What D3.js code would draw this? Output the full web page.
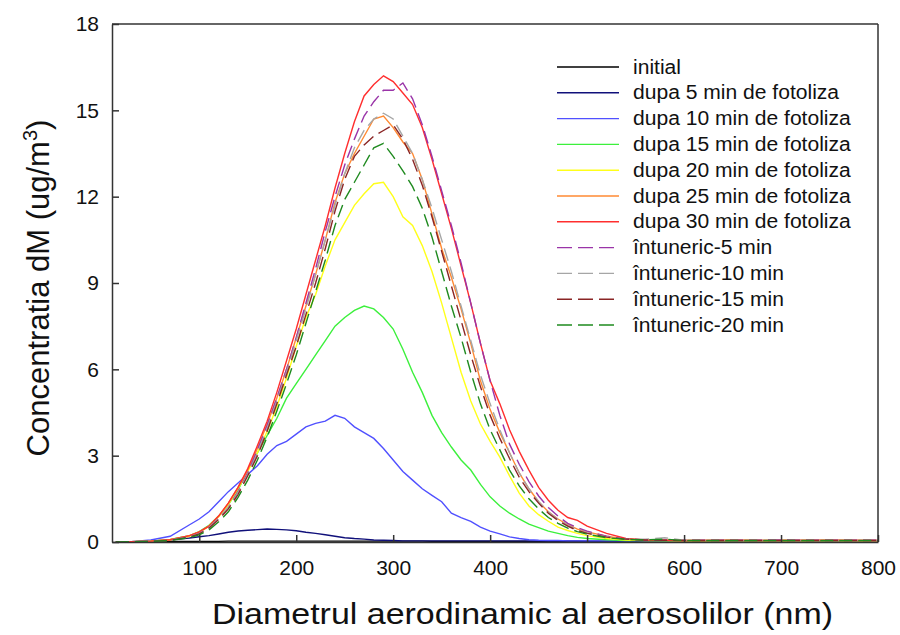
<!DOCTYPE html>
<html>
<head>
<meta charset="utf-8">
<script src="https://cdn.jsdelivr.net/npm/d3@7"></script>
<style>
  body { margin: 0; background: #fff; }
  svg text { font-family: "Liberation Sans", Arial, sans-serif; fill: #111; }
</style>
</head>
<body>
<svg id="chart" width="900" height="635"></svg>
<script>
// particle size distributions (dM vs diameter) during photolysis and in the dark

let diam = [14, 30, 50, 70, 90,
  100, 110, 120, 130, 140, 150, 160, 170, 180, 190,
  200, 210, 220, 230, 240, 250, 260, 270, 280, 290,
  300, 310, 320, 330, 340, 350, 360, 370, 380, 390,
  400, 410, 420, 430, 440, 450, 460, 470, 480, 490,
  500, 520, 540, 560, 580, 600, 650, 700, 750, 800];

let initial = [0, 0.01, 0.01, 0.02, 0.02,
  0.02, 0.02, 0.02, 0.03, 0.03, 0.03, 0.03, 0.03, 0.03, 0.03,
  0.03, 0.03, 0.03, 0.03, 0.03, 0.03, 0.03, 0.03, 0.03, 0.03,
  0.03, 0.03, 0.03, 0.03, 0.02, 0.02, 0.02, 0.02, 0.02, 0.02,
  0.02, 0.02, 0.02, 0.02, 0.02, 0.02, 0.02, 0.02, 0.02, 0.02,
  0.02, 0.02, 0.02, 0.02, 0.02, 0.02, 0.02, 0.02, 0.02, 0.02];

let dupa5 = [0, 0.01, 0.03, 0.08, 0.14,
  0.18, 0.22, 0.28, 0.34, 0.38, 0.41, 0.43, 0.45, 0.44, 0.42,
  0.39, 0.34, 0.30, 0.25, 0.20, 0.15, 0.12, 0.10, 0.07, 0.06,
  0.05, 0.04, 0.04, 0.04, 0.04, 0.04, 0.04, 0.04, 0.04, 0.04,
  0.04, 0.04, 0.04, 0.04, 0.04, 0.04, 0.04, 0.04, 0.04, 0.04,
  0.03, 0.03, 0.03, 0.03, 0.03, 0.03, 0.03, 0.03, 0.03, 0.03];

let dupa10 = [0, 0.01, 0.07, 0.2, 0.6,
  0.8, 1.05, 1.4, 1.75, 2.05, 2.35, 2.65, 3.05, 3.35, 3.5,
  3.75, 4.0, 4.12, 4.2, 4.4, 4.3, 4.0, 3.8, 3.6, 3.25,
  2.85, 2.45, 2.15, 1.85, 1.62, 1.4, 1.0, 0.85, 0.72, 0.52,
  0.38, 0.28, 0.18, 0.12, 0.08, 0.06, 0.05, 0.05, 0.04, 0.04,
  0.04, 0.04, 0.04, 0.04, 0.04, 0.04, 0.04, 0.04, 0.04, 0.04];

let dupa15 = [0, 0.01, 0.03, 0.09, 0.22,
  0.36, 0.58, 0.9, 1.3, 1.8, 2.5, 3.1, 3.7, 4.3, 5.0,
  5.5, 6.0, 6.5, 7.0, 7.5, 7.8, 8.05, 8.2, 8.1, 7.8,
  7.4, 6.7, 5.9, 5.2, 4.4, 3.8, 3.3, 2.85, 2.5, 2.0,
  1.57, 1.25, 1.0, 0.8, 0.62, 0.5, 0.38, 0.3, 0.22, 0.16,
  0.12, 0.08, 0.05, 0.05, 0.04, 0.04, 0.04, 0.04, 0.04, 0.04];

let dupa20 = [0, 0.01, 0.03, 0.08, 0.2,
  0.33, 0.55, 0.88, 1.3, 1.85, 2.45, 3.1, 3.85, 4.7, 5.7,
  6.8, 7.8, 8.6, 9.6, 10.5, 11.1, 11.7, 12.1, 12.45, 12.5,
  12.0, 11.3, 11.0, 10.3, 9.4, 8.3, 7.1, 5.9, 4.9, 4.1,
  3.5, 2.95, 2.3, 1.7, 1.25, 0.95, 0.72, 0.52, 0.4, 0.3,
  0.22, 0.12, 0.07, 0.05, 0.05, 0.04, 0.05, 0.04, 0.05, 0.04];

let dupa25 = [0, 0.01, 0.03, 0.08, 0.22,
  0.35, 0.55, 0.9, 1.35, 1.9, 2.5, 3.25, 4.1, 5.0, 6.0,
  7.1, 8.2, 9.3, 10.5, 11.8, 12.8, 13.5, 14.1, 14.7, 14.8,
  14.4, 13.9, 13.5, 12.6, 11.4, 10.2, 9.2, 8.1, 6.9, 5.6,
  4.6, 3.8, 3.1, 2.4, 1.85, 1.4, 1.05, 0.8, 0.6, 0.45,
  0.35, 0.2, 0.1, 0.07, 0.06, 0.05, 0.05, 0.06, 0.05, 0.05];

let dupa30 = [0, 0.01, 0.03, 0.08, 0.22,
  0.35, 0.55, 0.9, 1.35, 1.9, 2.55, 3.35, 4.2, 5.2, 6.3,
  7.4, 8.6, 9.8, 11.0, 12.3, 13.5, 14.6, 15.5, 15.9, 16.2,
  16.0, 15.6, 15.2, 14.4, 13.3, 12.1, 10.9, 9.6, 8.3, 6.9,
  5.6, 4.8, 3.9, 3.15, 2.5, 1.9, 1.45, 1.1, 0.85, 0.75,
  0.55, 0.3, 0.12, 0.07, 0.06, 0.05, 0.06, 0.05, 0.06, 0.05];

let intuneric5 = [0, 0.01, 0.02, 0.06, 0.18,
  0.3, 0.5, 0.82, 1.2, 1.75, 2.4, 3.2, 4.05, 5.0, 6.0,
  7.1, 8.3, 9.5, 10.8, 12.0, 13.1, 14.0, 14.8, 15.3, 15.7,
  15.7, 15.95, 15.4, 14.5, 13.4, 12.2, 11.0, 9.7, 8.3, 6.9,
  5.6, 4.4, 3.4, 2.7, 2.1, 1.6, 1.2, 0.9, 0.65, 0.5,
  0.38, 0.2, 0.1, 0.07, 0.06, 0.06, 0.06, 0.07, 0.06, 0.06];

let intuneric10 = [0, 0.01, 0.02, 0.06, 0.18,
  0.3, 0.5, 0.82, 1.2, 1.72, 2.35, 3.1, 3.95, 4.9, 5.9,
  7.0, 8.1, 9.3, 10.5, 11.7, 12.8, 13.7, 14.3, 14.7, 14.9,
  14.7, 14.1, 13.5, 12.6, 11.6, 10.5, 9.4, 8.2, 7.0, 5.8,
  4.8, 3.9, 3.1, 2.4, 1.85, 1.4, 1.05, 0.78, 0.58, 0.42,
  0.32, 0.18, 0.1, 0.1, 0.15, 0.06, 0.05, 0.05, 0.05, 0.05];

let intuneric15 = [0, 0.01, 0.02, 0.06, 0.17,
  0.28, 0.48, 0.78, 1.15, 1.65, 2.3, 3.0, 3.85, 4.8, 5.8,
  6.8, 7.9, 9.0, 10.2, 11.5, 12.6, 13.4, 13.8, 14.1, 14.3,
  14.5, 14.0, 13.3, 12.4, 11.3, 10.1, 8.9, 7.7, 6.5, 5.4,
  4.4, 3.6, 2.9, 2.25, 1.75, 1.35, 1.0, 0.75, 0.55, 0.4,
  0.3, 0.17, 0.1, 0.07, 0.06, 0.05, 0.05, 0.05, 0.05, 0.05];

let intuneric20 = [0, 0.01, 0.02, 0.05, 0.15,
  0.25, 0.42, 0.7, 1.05, 1.55, 2.15, 2.85, 3.65, 4.55, 5.5,
  6.5, 7.6, 8.7, 9.8, 11.0, 11.9, 12.5, 13.1, 13.7, 13.85,
  13.4, 12.9, 12.35, 11.6, 10.6, 9.4, 8.2, 7.1, 5.9, 4.8,
  3.9, 3.2, 2.5, 1.95, 1.5, 1.15, 0.85, 0.65, 0.48, 0.36,
  0.27, 0.15, 0.09, 0.07, 0.1, 0.05, 0.05, 0.05, 0.05, 0.05];

let seriesNames = ["initial", "dupa 5 min de fotoliza", "dupa 10 min de fotoliza",
  "dupa 15 min de fotoliza", "dupa 20 min de fotoliza", "dupa 25 min de fotoliza",
  "dupa 30 min de fotoliza", "întuneric-5 min", "întuneric-10 min",
  "întuneric-15 min", "întuneric-20 min"];
let seriesValues = [initial, dupa5, dupa10, dupa15, dupa20, dupa25, dupa30,
  intuneric5, intuneric10, intuneric15, intuneric20];

let xTicks = [100, 200, 300, 400, 500, 600, 700, 800];
let yTicks = [0, 3, 6, 9, 12, 15, 18];

let colors = ["#000000", "#10107a", "#5050ff", "#3cf03c", "#ffff1a", "#ff8a33",
  "#ff2e2e", "#9a34a8", "#a6a6a6", "#8a2525", "#1f8a1f"];
let dashed = [false, false, false, false, false, false, false, true, true, true, true];

let margin = {left: 112, top: 24, right: 22, bottom: 93};
let width = 900 - margin.left - margin.right;
let height = 635 - margin.top - margin.bottom;

let svg = d3.select("#chart");
let g = svg.append("g").attr("transform", "translate(" + margin.left + "," + margin.top + ")");

let x = d3.scaleLinear().domain([10, 800]).range([0, width]);
let y = d3.scaleLinear().domain([0, 18]).range([height, 0]);

let line = d3.line()
  .x(function(d) { return x(d[0]); })
  .y(function(d) { return y(d[1]); });

// series
seriesValues.forEach(function(vals, i) {
  let pts = diam.map(function(d, j) { return [d, vals[j]]; });
  g.append("path")
    .datum(pts)
    .attr("fill", "none")
    .attr("stroke", colors[i])
    .attr("stroke-width", 1.4)
    .attr("stroke-dasharray", dashed[i] ? "13,6" : null)
    .attr("d", line);
});

// frame + inward ticks
let xAxis = g.append("g").attr("transform", "translate(0," + height + ")")
  .call(d3.axisBottom(x).tickValues(xTicks).tickSizeInner(-7).tickSizeOuter(0).tickPadding(18));
let yAxis = g.append("g")
  .call(d3.axisLeft(y).tickValues(yTicks).tickSizeInner(-7).tickSizeOuter(0).tickPadding(13));
[xAxis, yAxis].forEach(function(a) {
  a.selectAll("path, line").attr("stroke", "#333").attr("stroke-width", 1.5);
  a.selectAll("text").style("font-size", "21px").style("font-family", "Liberation Sans, Arial, sans-serif").attr("fill", "#111");
});
g.append("line").attr("x1", 0).attr("x2", width).attr("y1", 0).attr("y2", 0)
  .attr("stroke", "#333").attr("stroke-width", 1.5);
g.append("line").attr("x1", width).attr("x2", width).attr("y1", 0).attr("y2", height)
  .attr("stroke", "#333").attr("stroke-width", 1.5);

// axis titles
svg.append("text")
  .attr("x", 212).attr("y", 624)
  .attr("textLength", 621).attr("lengthAdjust", "spacingAndGlyphs")
  .style("font-size", "30px")
  .text("Diametrul aerodinamic al aerosolilor (nm)");

let yt = svg.append("text")
  .attr("transform", "translate(49," + 288 + ") rotate(-90)")
  .attr("text-anchor", "middle")
  .style("font-size", "31px");
yt.append("tspan").text("Concentratia dM (ug/m");
yt.append("tspan").attr("dy", -12).style("font-size", "20px").text("3");
yt.append("tspan").attr("dy", 12).text(")");

// legend
let legend = svg.append("g").attr("transform", "translate(557,67)");
seriesNames.forEach(function(name, i) {
  let row = legend.append("g").attr("transform", "translate(0," + (i * 25.8) + ")");
  row.append("line").attr("x1", 0).attr("x2", 62).attr("y1", 0).attr("y2", 0)
    .attr("stroke", colors[i]).attr("stroke-width", 1.4)
    .attr("stroke-dasharray", dashed[i] ? "15,6" : null);
  let t = row.append("text").attr("x", 76).attr("y", 6.5)
    .style("font-size", "19.5px")
    .text(name);
  let w = t.node().getComputedTextLength();
  t.attr("textLength", w * 1.08).attr("lengthAdjust", "spacingAndGlyphs");
});
</script>
</body>
</html>
